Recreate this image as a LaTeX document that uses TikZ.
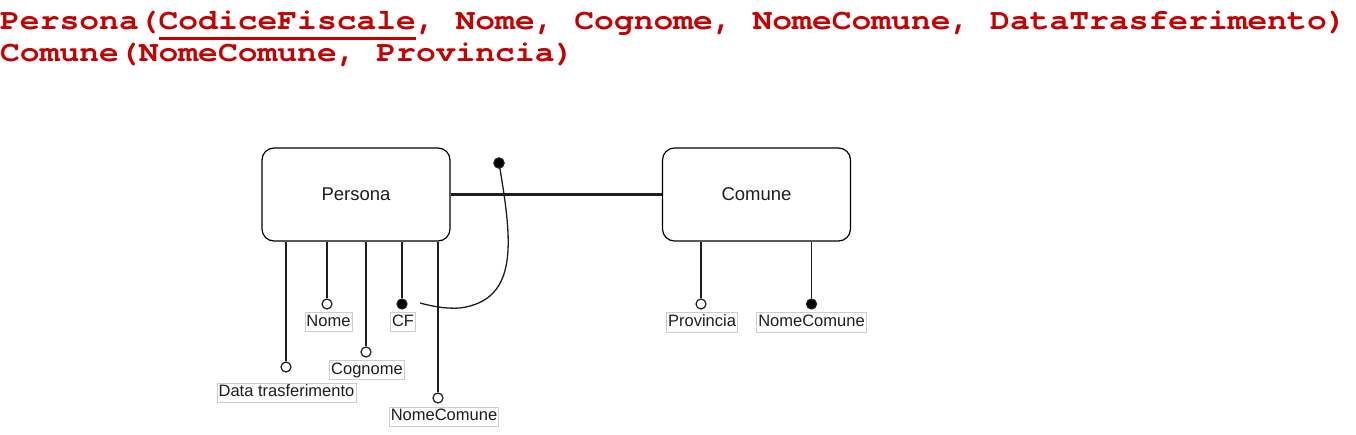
\documentclass[tikz,border=0pt]{standalone}
\usepackage{graphicx}
\usepackage{fontspec}
\setmainfont{Liberation Sans}
\newfontfamily\hdrfont{TeX Gyre Cursor}
\definecolor{hdrred}{RGB}{196,0,0}
\definecolor{ink}{RGB}{30,30,30}
\definecolor{lblgray}{RGB}{205,205,205}
\begin{document}
\begin{tikzpicture}[x=1pt,y=-1pt,
  entity/.style={draw=black,line width=1.2pt,rounded corners=12pt,minimum width=188pt,minimum height=93pt,font=\fontsize{18.5}{20}\selectfont,text=ink},
  attro/.style={circle,draw=ink,fill=white,line width=1.2pt,minimum size=10pt,inner sep=0pt},
  attrf/.style={circle,draw=ink,fill=black,line width=1.2pt,minimum size=10pt,inner sep=0pt},
  attrline/.style={draw=ink,line width=1.3pt},
  lbl/.style={draw=lblgray,line width=0.7pt,fill=white,font=\fontsize{16.5}{18}\selectfont,text=ink,inner xsep=1.5pt,inner ysep=1.5pt,text height=12.5pt,text depth=3.8pt},
  hdr/.style={anchor=base west,inner sep=0pt,font=\hdrfont\bfseries\fontsize{33}{33}\selectfont,text=hdrred}
]
\useasboundingbox (0,0) rectangle (1356,435);
% header
\node[hdr] (h1) at (0,29.3) {\scalebox{1}[0.88]{Persona(\rlap{\color{hdrred}\rule[-12.2pt]{257.4pt}{3.1pt}}CodiceFiscale, Nome, Cognome, NomeComune, DataTrasferimento)}};
\node[hdr] (h2) at (0,61.7) {\scalebox{1}[0.88]{Comune(NomeComune, Provincia)}};
% entities
\node[entity] (persona) at (356,194.5) {Persona};
\node[entity] (comune) at (756.5,194.5) {Comune};
\draw[draw=ink,line width=2.6pt] (persona.east) -- (comune.west);
% Persona attributes
\node[attro] (cData) at (286,367) {};
\node[attro] (cNome) at (327,304) {};
\node[attro] (cCogn) at (366,352) {};
\node[attrf] (cCF) at (402,304) {};
\node[attro] (cNC) at (438,398) {};
\foreach \c in {cData,cNome,cCogn,cCF,cNC}
  \draw[attrline] (persona.south -| \c) -- (\c);
\node[lbl] (lData) at (286.5,392.5) {Data trasferimento};
\node[lbl] (lNome) at (328.5,322) {Nome};
\node[lbl] (lCogn) at (367,370) {Cognome};
\node[lbl] (lCF) at (403,322) {CF};
\node[lbl] (lNC) at (444,416.5) {NomeComune};
% identifier curve
\node[attrf] (idDot) at (499,163) {};
\coordinate (idEnd) at (420,303);
\draw[draw=ink,line width=1.3pt] (idDot.center) .. controls (512,240) and (520,300) .. (460,308) .. controls (445,309) and (431,306) .. (idEnd);
\node[attrf] (idDotTop) at (499,163) {};
% Comune attributes
\node[attro] (cProv) at (701,304) {};
\node[attrf] (cNCom) at (811.5,304) {};
\foreach \c in {cProv,cNCom}
  \draw[attrline] (comune.south -| \c) -- (\c);
\node[lbl] (lProv) at (702,322.5) {Provincia};
\node[lbl] (lNCom) at (811.5,322.5) {NomeComune};
\end{tikzpicture}
\end{document}
